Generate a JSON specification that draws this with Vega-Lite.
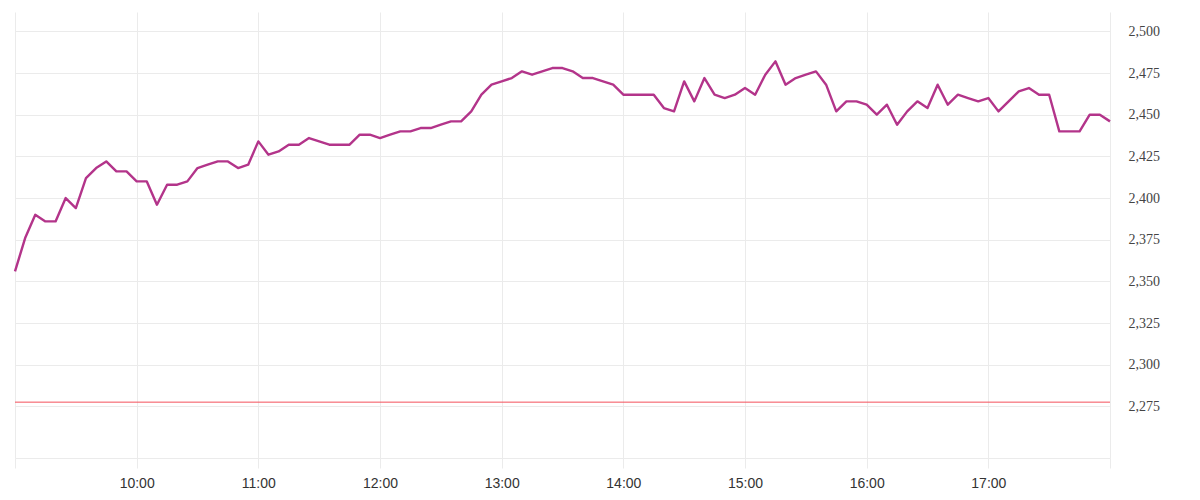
{
  "$schema": "https://vega.github.io/schema/vega-lite/v6.json",
  "autosize": {"type": "none"},
  "padding": {"left": 15, "top": 12, "right": 90, "bottom": 42},
  "width": 1095,
  "height": 446,
  "background": "white",
  "config": {
    "view": {"stroke": null},
    "axis": {"labelFont": "Liberation Serif", "labelFontSize": 14, "labelColor": "#444", "gridColor": "#ebebeb", "gridWidth": 1}
  },
  "datasets": {
    "prices": [
      {"t": "2024-01-02T09:00", "v": 2356}, {"t": "2024-01-02T09:05", "v": 2376}, {"t": "2024-01-02T09:10", "v": 2390}, {"t": "2024-01-02T09:15", "v": 2386},
      {"t": "2024-01-02T09:20", "v": 2386}, {"t": "2024-01-02T09:25", "v": 2400}, {"t": "2024-01-02T09:30", "v": 2394}, {"t": "2024-01-02T09:35", "v": 2412},
      {"t": "2024-01-02T09:40", "v": 2418}, {"t": "2024-01-02T09:45", "v": 2422}, {"t": "2024-01-02T09:50", "v": 2416}, {"t": "2024-01-02T09:55", "v": 2416},
      {"t": "2024-01-02T10:00", "v": 2410}, {"t": "2024-01-02T10:05", "v": 2410}, {"t": "2024-01-02T10:10", "v": 2396}, {"t": "2024-01-02T10:15", "v": 2408},
      {"t": "2024-01-02T10:20", "v": 2408}, {"t": "2024-01-02T10:25", "v": 2410}, {"t": "2024-01-02T10:30", "v": 2418}, {"t": "2024-01-02T10:35", "v": 2420},
      {"t": "2024-01-02T10:40", "v": 2422}, {"t": "2024-01-02T10:45", "v": 2422}, {"t": "2024-01-02T10:50", "v": 2418}, {"t": "2024-01-02T10:55", "v": 2420},
      {"t": "2024-01-02T11:00", "v": 2434}, {"t": "2024-01-02T11:05", "v": 2426}, {"t": "2024-01-02T11:10", "v": 2428}, {"t": "2024-01-02T11:15", "v": 2432},
      {"t": "2024-01-02T11:20", "v": 2432}, {"t": "2024-01-02T11:25", "v": 2436}, {"t": "2024-01-02T11:30", "v": 2434}, {"t": "2024-01-02T11:35", "v": 2432},
      {"t": "2024-01-02T11:40", "v": 2432}, {"t": "2024-01-02T11:45", "v": 2432}, {"t": "2024-01-02T11:50", "v": 2438}, {"t": "2024-01-02T11:55", "v": 2438},
      {"t": "2024-01-02T12:00", "v": 2436}, {"t": "2024-01-02T12:05", "v": 2438}, {"t": "2024-01-02T12:10", "v": 2440}, {"t": "2024-01-02T12:15", "v": 2440},
      {"t": "2024-01-02T12:20", "v": 2442}, {"t": "2024-01-02T12:25", "v": 2442}, {"t": "2024-01-02T12:30", "v": 2444}, {"t": "2024-01-02T12:35", "v": 2446},
      {"t": "2024-01-02T12:40", "v": 2446}, {"t": "2024-01-02T12:45", "v": 2452}, {"t": "2024-01-02T12:50", "v": 2462}, {"t": "2024-01-02T12:55", "v": 2468},
      {"t": "2024-01-02T13:00", "v": 2470}, {"t": "2024-01-02T13:05", "v": 2472}, {"t": "2024-01-02T13:10", "v": 2476}, {"t": "2024-01-02T13:15", "v": 2474},
      {"t": "2024-01-02T13:20", "v": 2476}, {"t": "2024-01-02T13:25", "v": 2478}, {"t": "2024-01-02T13:30", "v": 2478}, {"t": "2024-01-02T13:35", "v": 2476},
      {"t": "2024-01-02T13:40", "v": 2472}, {"t": "2024-01-02T13:45", "v": 2472}, {"t": "2024-01-02T13:50", "v": 2470}, {"t": "2024-01-02T13:55", "v": 2468},
      {"t": "2024-01-02T14:00", "v": 2462}, {"t": "2024-01-02T14:05", "v": 2462}, {"t": "2024-01-02T14:10", "v": 2462}, {"t": "2024-01-02T14:15", "v": 2462},
      {"t": "2024-01-02T14:20", "v": 2454}, {"t": "2024-01-02T14:25", "v": 2452}, {"t": "2024-01-02T14:30", "v": 2470}, {"t": "2024-01-02T14:35", "v": 2458},
      {"t": "2024-01-02T14:40", "v": 2472}, {"t": "2024-01-02T14:45", "v": 2462}, {"t": "2024-01-02T14:50", "v": 2460}, {"t": "2024-01-02T14:55", "v": 2462},
      {"t": "2024-01-02T15:00", "v": 2466}, {"t": "2024-01-02T15:05", "v": 2462}, {"t": "2024-01-02T15:10", "v": 2474}, {"t": "2024-01-02T15:15", "v": 2482},
      {"t": "2024-01-02T15:20", "v": 2468}, {"t": "2024-01-02T15:25", "v": 2472}, {"t": "2024-01-02T15:30", "v": 2474}, {"t": "2024-01-02T15:35", "v": 2476},
      {"t": "2024-01-02T15:40", "v": 2468}, {"t": "2024-01-02T15:45", "v": 2452}, {"t": "2024-01-02T15:50", "v": 2458}, {"t": "2024-01-02T15:55", "v": 2458},
      {"t": "2024-01-02T16:00", "v": 2456}, {"t": "2024-01-02T16:05", "v": 2450}, {"t": "2024-01-02T16:10", "v": 2456}, {"t": "2024-01-02T16:15", "v": 2444},
      {"t": "2024-01-02T16:20", "v": 2452}, {"t": "2024-01-02T16:25", "v": 2458}, {"t": "2024-01-02T16:30", "v": 2454}, {"t": "2024-01-02T16:35", "v": 2468},
      {"t": "2024-01-02T16:40", "v": 2456}, {"t": "2024-01-02T16:45", "v": 2462}, {"t": "2024-01-02T16:50", "v": 2460}, {"t": "2024-01-02T16:55", "v": 2458},
      {"t": "2024-01-02T17:00", "v": 2460}, {"t": "2024-01-02T17:05", "v": 2452}, {"t": "2024-01-02T17:10", "v": 2458}, {"t": "2024-01-02T17:15", "v": 2464},
      {"t": "2024-01-02T17:20", "v": 2466}, {"t": "2024-01-02T17:25", "v": 2462}, {"t": "2024-01-02T17:30", "v": 2462}, {"t": "2024-01-02T17:35", "v": 2440},
      {"t": "2024-01-02T17:40", "v": 2440}, {"t": "2024-01-02T17:45", "v": 2440}, {"t": "2024-01-02T17:50", "v": 2450}, {"t": "2024-01-02T17:55", "v": 2450},
      {"t": "2024-01-02T18:00", "v": 2446}
    ],
    "ref": [{"level": 2277.6}]
  },
  "layer": [
    {
      "data": {"name": "prices"},
      "mark": {"type": "line", "color": "#b3348a", "strokeWidth": 2.4, "strokeJoin": "round"},
      "encoding": {
        "x": {
          "field": "t", "type": "temporal",
          "scale": {"domain": ["2024-01-02T09:00", "2024-01-02T18:00"], "nice": false},
          "axis": {
            "title": null,
            "values": ["2024-01-02T09:00", "2024-01-02T10:00", "2024-01-02T11:00", "2024-01-02T12:00", "2024-01-02T13:00", "2024-01-02T14:00", "2024-01-02T15:00", "2024-01-02T16:00", "2024-01-02T17:00", "2024-01-02T18:00"],
            "labelExpr": "(hours(datum.value) == 9 || hours(datum.value) == 18) ? '' : timeFormat(datum.value, '%H:%M')",
            "grid": true,
            "domain": true, "domainColor": "#ebebeb", "domainWidth": 1,
            "ticks": true, "tickSize": 10, "tickColor": "#ebebeb", "tickWidth": 1,
            "labelPadding": 8, "labelFont": "Liberation Sans", "labelFontSize": 14, "labelColor": "#333",
            "labelFlush": false
          }
        },
        "y": {
          "field": "v", "type": "quantitative",
          "scale": {"domain": [2244.1, 2511.6], "nice": false, "zero": false},
          "axis": {
            "title": null, "orient": "right",
            "values": [2275, 2300, 2325, 2350, 2375, 2400, 2425, 2450, 2475, 2500],
            "format": ",d",
            "grid": true, "domain": false, "ticks": false,
            "labelPadding": 18, "labelAlign": "left", "labelBaseline": "middle"
          }
        }
      }
    },
    {
      "data": {"name": "ref"},
      "mark": {"type": "rule", "color": "#f4505a", "strokeWidth": 1},
      "encoding": {
        "y": {"field": "level", "type": "quantitative"}
      }
    }
  ]
}
